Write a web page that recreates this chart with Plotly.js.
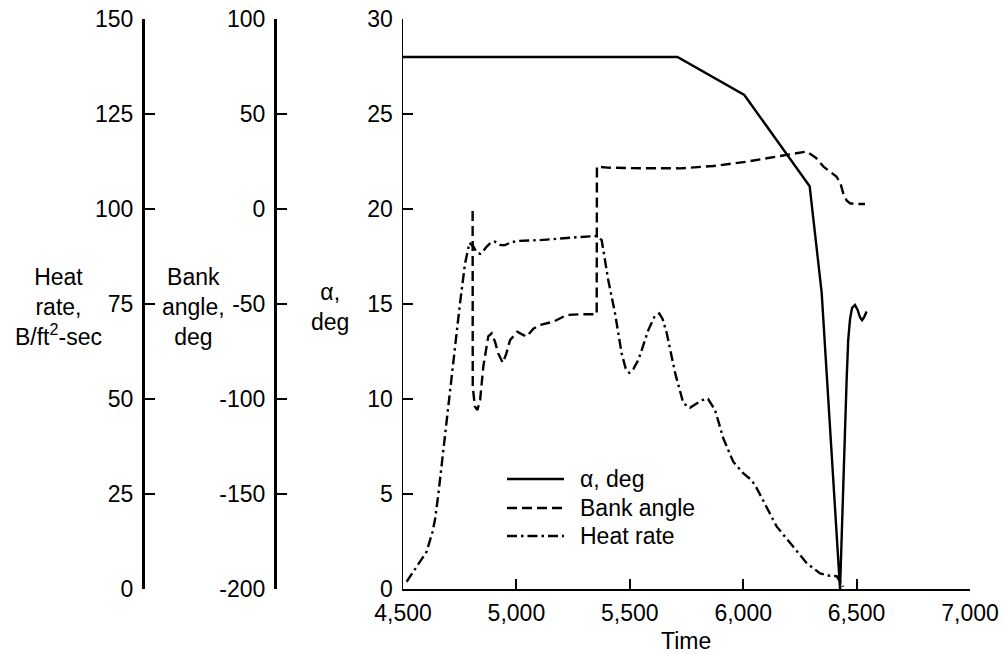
<!DOCTYPE html>
<html>
<head>
<meta charset="utf-8">
<script src="https://cdn.plot.ly/plotly-3.0.1.min.js"></script>
<style>html,body{margin:0;padding:0;background:#fff;}#chart{width:1005px;height:654px;}</style>
</head>
<body>
<div id="chart"></div>
<script>
// ---- data ----
const alphaTime = [4500, 5710, 6005, 6293, 6346, 6427, 6456, 6463, 6471, 6480, 6493, 6504, 6515, 6524, 6533, 6544];
const alphaDeg  = [28, 28, 26, 21.2, 15.6, 0, 11, 13.1, 14.2, 14.8, 14.95, 14.7, 14.3, 14.15, 14.3, 14.6];

const bankTime = [4807, 4807.5, 4817, 4828, 4840, 4854, 4876, 4891, 4906, 4920, 4940, 4956, 4972, 5004, 5025, 5045, 5075, 5104, 5163, 5222, 5280, 5354, 5355, 5400, 5500, 5575, 5721, 5868, 6015, 6162, 6280, 6320, 6354, 6390, 6412, 6430, 6441, 6456, 6471, 6500, 6537];
const bankDeg  = [-1, -93.5, -104, -105.8, -100.5, -83, -67, -65.4, -70, -76, -81, -76, -69, -64.6, -66, -67.2, -63, -61, -59.3, -55.8, -55.4, -55.4, 22.3, 21.8, 21.5, 21.4, 21.4, 22.6, 24.9, 27.9, 30.2, 27, 22.3, 19, 17, 13, 8.3, 4.5, 3, 2.6, 2.6];

const heatTime = [4516, 4560, 4604, 4630, 4641, 4656, 4671, 4690, 4707, 4729, 4751, 4773, 4785, 4793, 4810, 4825, 4840, 4855, 4869, 4890, 4906, 4930, 4950, 4975, 5008, 5104, 5251, 5354, 5376, 5405, 5435, 5464, 5482, 5498, 5515, 5538, 5582, 5610, 5630, 5645, 5663, 5700, 5736, 5765, 5800, 5830, 5845, 5876, 5912, 5956, 6001, 6030, 6052, 6089, 6148, 6221, 6280, 6339, 6380, 6412, 6441];
const heatRate = [1.9, 6, 9.8, 15, 18.2, 25, 33, 44, 53, 64, 75, 85.5, 89.5, 91.1, 90.1, 88.6, 88.2, 89, 90.1, 91.3, 91.4, 90.5, 90.5, 91.2, 91.6, 91.8, 92.5, 92.9, 91.8, 81.3, 72.5, 62, 58, 56.9, 57.8, 60.3, 68.2, 71.8, 72.5, 71, 67.3, 56.8, 48.9, 47.7, 49, 50, 50, 47.1, 39.7, 33.5, 30.4, 29, 27.4, 23, 16.4, 11.1, 6.8, 4.1, 3.5, 3.4, 0.6];

const timeTicks  = [4500, 5000, 5500, 6000, 6500, 7000];
const timeLabels = ['4,500', '5,000', '5,500', '6,000', '6,500', '7,000'];
const alphaTicks = [0, 5, 10, 15, 20, 25, 30];
const alphaLabels = ['0', '5', '10', '15', '20', '25', '30'];
const bankTicks  = [-200, -150, -100, -50, 0, 50, 100];
const bankLabels = ['-200', '-150', '-100', '-50', '0', '50', '100'];
const heatTicks  = [0, 25, 50, 75, 100, 125, 150];
const heatLabels = ['0', '25', '50', '75', '100', '125', '150'];

const seriesNames = ['\u03b1, deg', 'Bank angle', 'Heat rate'];
const axisTitles = {
  heat: 'Heat<br>rate,<br>B/ft<sup>2</sup>-sec',
  bank: 'Bank<br>angle,<br>deg',
  alpha: '\u03b1,<br>deg',
  time: 'Time'
};

// ---- layout helpers (pixel -> paper) ----
const W = 1005, H = 654;
const px = x => x / W;
const py = y => 1 - y / H;
const FONT = 'Liberation Sans, Arial, Helvetica, sans-serif';
const FS = 23;
const dashes = ['solid', '10px,5px', '10px,4px,2.5px,4px'];

const traces = [
  {x: alphaTime, y: alphaDeg, name: seriesNames[0], type: 'scatter', mode: 'lines', yaxis: 'y',
   line: {color: '#000', width: 2.4, dash: dashes[0]}},
  {x: bankTime, y: bankDeg, name: seriesNames[1], type: 'scatter', mode: 'lines', yaxis: 'y2',
   line: {color: '#000', width: 2.4, dash: dashes[1]}},
  {x: heatTime, y: heatRate, name: seriesNames[2], type: 'scatter', mode: 'lines', yaxis: 'y3',
   line: {color: '#000', width: 2.4, dash: dashes[2]}}
];

const yDomain = [py(589), py(19)];
const commonY = {
  showgrid: false, zeroline: false, showline: true, linecolor: '#000',
  ticks: 'inside', ticklen: 10, tickcolor: '#000', tickwidth: 1.4,
  tickfont: {family: FONT, size: FS, color: '#000'}, tickmode: 'array',
  ticklabelstandoff: 4,
  domain: yDomain, fixedrange: true
};

// custom legend (line samples + labels)
const legendRows = [479, 508, 536];
const shapes = legendRows.map((yy, i) => ({
  type: 'line', xref: 'paper', yref: 'paper',
  x0: px(507), x1: px(564), y0: py(yy), y1: py(yy),
  line: {color: '#000', width: 2.4, dash: dashes[i]}
}));
const annotations = legendRows.map((yy, i) => ({
  xref: 'paper', yref: 'paper', x: px(578), y: py(yy), xanchor: 'left', yanchor: 'middle',
  text: seriesNames[i], showarrow: false, font: {family: FONT, size: FS, color: '#000'}
}));
annotations.push(
  {xref: 'paper', yref: 'paper', x: px(58), y: py(307), xanchor: 'center', yanchor: 'middle',
   text: axisTitles.heat, showarrow: false, align: 'center', font: {family: FONT, size: FS, color: '#000'}},
  {xref: 'paper', yref: 'paper', x: px(193), y: py(307), xanchor: 'center', yanchor: 'middle',
   text: axisTitles.bank, showarrow: false, align: 'center', font: {family: FONT, size: FS, color: '#000'}},
  {xref: 'paper', yref: 'paper', x: px(330), y: py(307), xanchor: 'center', yanchor: 'middle',
   text: axisTitles.alpha, showarrow: false, align: 'center', font: {family: FONT, size: FS, color: '#000'}},
  {xref: 'paper', yref: 'paper', x: px(686), y: py(641), xanchor: 'center', yanchor: 'middle',
   text: axisTitles.time, showarrow: false, font: {family: FONT, size: FS, color: '#000'}}
);

const layout = {
  width: W, height: H,
  margin: {l: 0, r: 0, t: 0, b: 0, pad: 0},
  paper_bgcolor: '#fff', plot_bgcolor: '#fff',
  showlegend: false,
  font: {family: FONT, size: FS, color: '#000'},
  xaxis: {
    domain: [px(403), px(970)], range: [4500, 7000],
    tickmode: 'array', tickvals: timeTicks, ticktext: timeLabels,
    showgrid: false, zeroline: false, showline: true, linecolor: '#000', linewidth: 2.2,
    ticks: 'inside', ticklen: 10, tickwidth: 2, tickcolor: '#000', ticklabelstandoff: 2,
    tickfont: {family: FONT, size: FS, color: '#000'}, anchor: 'y', fixedrange: true
  },
  yaxis: Object.assign({}, commonY, {
    range: [0, 30], tickvals: alphaTicks, ticktext: alphaLabels, anchor: 'x', side: 'left', linewidth: 1.5
  }),
  yaxis2: Object.assign({}, commonY, {
    range: [-200, 100], tickvals: bankTicks, ticktext: bankLabels, overlaying: 'y', anchor: 'free',
    position: px(275), side: 'left', linewidth: 2.5
  }),
  yaxis3: Object.assign({}, commonY, {
    range: [0, 150], tickvals: heatTicks, ticktext: heatLabels, overlaying: 'y', anchor: 'free',
    position: px(143), side: 'left', linewidth: 2.5
  }),
  shapes: shapes,
  annotations: annotations
};

Plotly.newPlot('chart', traces, layout, {staticPlot: true, displayModeBar: false});
</script>
</body>
</html>
